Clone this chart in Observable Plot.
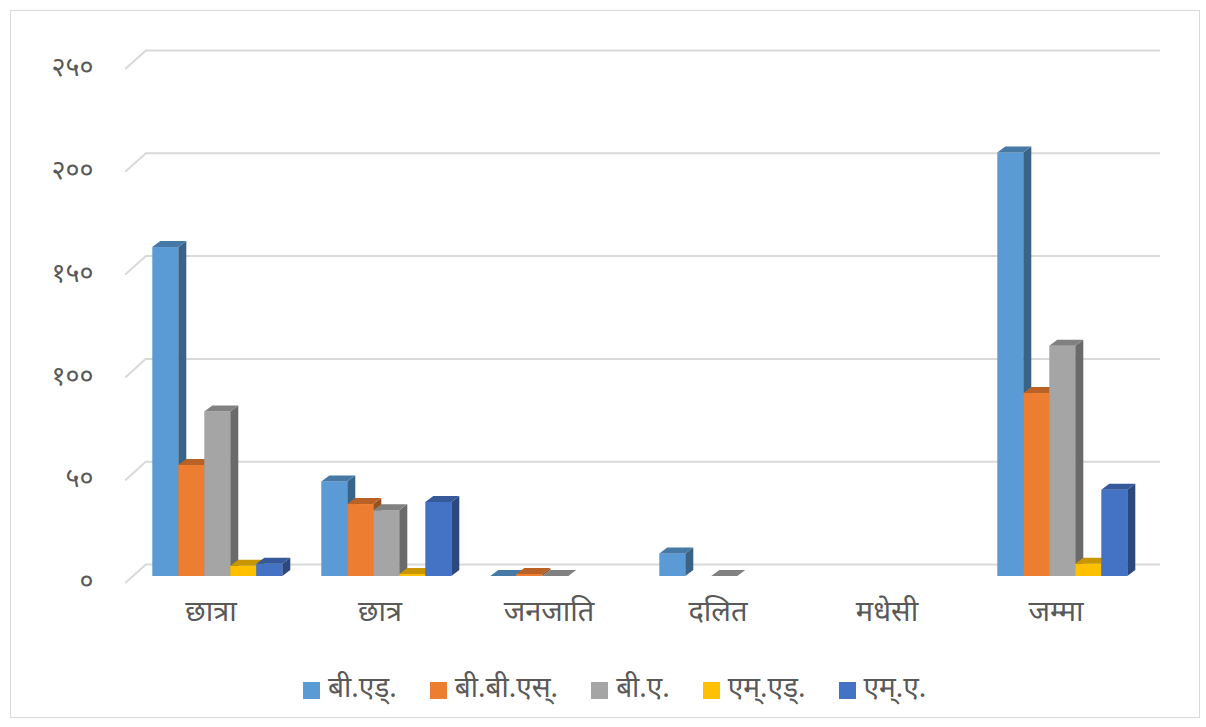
<!DOCTYPE html>
<html><head><meta charset="utf-8">
<script src="https://cdn.jsdelivr.net/npm/d3@7"></script>
<script src="https://cdn.jsdelivr.net/npm/@observablehq/plot@0.6"></script>
<style>
body{margin:0;background:#fff;font-family:"Noto Sans Devanagari","Noto Sans",sans-serif;}
#frame{position:absolute;left:10px;top:10px;width:1190px;height:708px;border:1px solid #d9d9d9;box-sizing:border-box;}
#chart{position:absolute;left:0;top:0;}
#legend{position:absolute;left:303px;top:670px;height:40px;display:flex;align-items:center;gap:33px;font-size:28px;color:#595959;white-space:nowrap;}
#legend .item{display:flex;align-items:center;gap:8px;}
#legend .sw{width:17px;height:17px;display:inline-block;}
</style></head><body>
<div id="frame"></div><div id="chart"></div><div id="legend"></div>
<script>
const categories = ["छात्रा","छात्र","जनजाति","दलित","मधेसी","जम्मा"];
const seriesNames = ["बी.एड्.","बी.बी.एस्.","बी.ए.","एम्.एड्.","एम्.ए."];
const bEd = [160, 46, 0, 11, null, 206];
const bbs = [54, 35, 1, null, null, 89];
const ba  = [80, 32, 0, 0, null, 112];
const mEd = [5, 1, null, null, null, 6];
const mA  = [6, 36, null, null, null, 42];
const yTickValues = [0, 50, 100, 150, 200, 250];
const yTickLabels = ["०","५०","१००","१५०","२००","२५०"];
const colors = ["#5b9bd5","#ed7d31","#a5a5a5","#ffc000","#4472c4"];

const seriesValues = [bEd, bbs, ba, mEd, mA];
const data = categories.flatMap((c, i) =>
  seriesNames.map((s, j) => ({category: c, series: s, value: seriesValues[j][i]}))
).filter(d => d.value != null);

function shade(c, k) { return d3.rgb(c.r * k, c.g * k, c.b * k).formatHex(); }

function bars3d(index, scales, values, dimensions, context, next) {
  const g = next(index, scales, values, dimensions, context);
  const ddx = 8, ddy = -6;
  const ns = "http://www.w3.org/2000/svg";
  for (const r of Array.from(g.querySelectorAll("rect"))) {
    const x = +r.getAttribute("x"), y = +r.getAttribute("y");
    const w = +r.getAttribute("width"), h = +r.getAttribute("height");
    const base = d3.rgb(r.getAttribute("fill"));
    const sideP = document.createElementNS(ns, "polygon");
    sideP.setAttribute("points", `${x+w},${y} ${x+w+ddx},${y+ddy} ${x+w+ddx},${y+h+ddy} ${x+w},${y+h}`);
    sideP.setAttribute("fill", shade(base, 0.64));
    const topP = document.createElementNS(ns, "polygon");
    topP.setAttribute("points", `${x},${y} ${x+w},${y} ${x+w+ddx},${y+ddy} ${x+ddx},${y+ddy}`);
    topP.setAttribute("fill", shade(base, 0.78));
    r.after(sideP, topP);
  }
  return g;
}

const stubShape = {draw(context, l) { context.moveTo(0, 0); context.lineTo(0, -l); }};

const chart = Plot.plot({
  width: 1206, height: 650,
  marginLeft: 132.7, marginRight: 58.7, marginTop: 62, marginBottom: 74,
  style: {fontFamily: '"Noto Sans Devanagari","Noto Sans",sans-serif', background: "transparent"},
  fx: {domain: categories, padding: 0, axis: null},
  x: {domain: seriesNames, paddingInner: 0, paddingOuter: 0.727, axis: null},
  y: {domain: [0, 250], axis: null},
  color: {domain: seriesNames, range: colors},
  marks: [
    Plot.ruleY(yTickValues, {y: d => d, dx: 13, dy: -12, stroke: "#d9d9d9", strokeWidth: 2}),
    Plot.vector(yTickValues, {fx: () => categories[0], y: d => d, frameAnchor: "left", dx: -7.7, dy: 6,
      length: 27, rotate: 48, anchor: "start", shape: stubShape, stroke: "#d9d9d9", strokeWidth: 2}),
    Plot.text(yTickValues, {fx: () => categories[0], y: d => d, text: (d, i) => yTickLabels[i],
      frameAnchor: "left", textAnchor: "end", dx: -40, dy: 5, fontSize: 27, fill: "#595959"}),
    Plot.text(categories, {fx: d => d, text: d => d, frameAnchor: "bottom", dx: -7, dy: 44,
      fontSize: 29, fill: "#595959"}),
    Plot.barY(data, {fx: "category", x: "series", y: "value", fill: "series", render: bars3d})
  ]
});
document.getElementById("chart").appendChild(chart);

const legend = document.getElementById("legend");
seriesNames.forEach((s, i) => {
  const item = document.createElement("span");
  item.className = "item";
  const sw = document.createElement("span");
  sw.className = "sw";
  sw.style.background = colors[i];
  const t = document.createElement("span");
  t.textContent = s;
  item.appendChild(sw); item.appendChild(t);
  legend.appendChild(item);
});
</script>
</body></html>
